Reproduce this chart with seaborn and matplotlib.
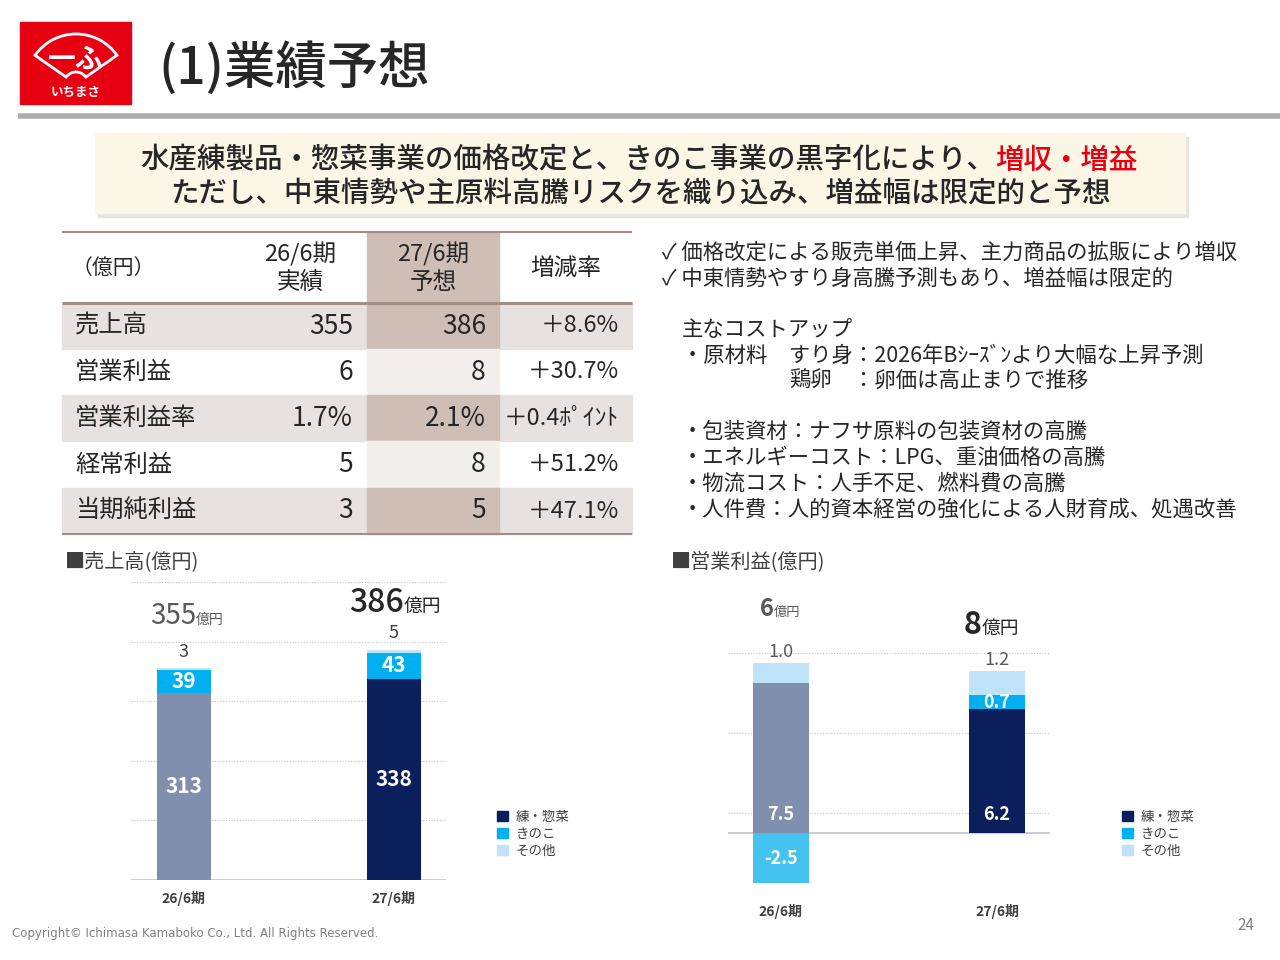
import numpy as np
import pandas as pd
import matplotlib
matplotlib.use('Agg')
import matplotlib.pyplot as plt
import seaborn as sns
from matplotlib import font_manager
from matplotlib.patches import Rectangle, Wedge, Patch

# データ（億円）
periods = ['26/6期', '27/6期']
segments = ['練・惣菜', 'きのこ', 'その他']

sales_main = [313, 338]
sales_kinoko = [39, 43]
sales_other = [3, 5]
sales_total = [355, 386]

op_main = [7.5, 6.2]
op_kinoko = [-2.5, 0.7]
op_other = [1.0, 1.2]
op_total = [6, 8]

table_rows = ['売上高', '営業利益', '営業利益率', '経常利益', '当期純利益']
table_26 = ['355', '6', '1.7%', '5', '3']
table_27 = ['386', '8', '2.1%', '8', '5']
table_rate = ['＋8.6%', '＋30.7%', '＋0.4ﾎﾟｲﾝﾄ', '＋51.2%', '＋47.1%']

# 色
NAVY = '#0B1F5C'
GRAYBLUE = '#7F8FAD'
CYAN = '#00B0F0'
CYAN_NEG = '#45C3F0'
LIGHT = '#BFE3F8'
RED = '#E60012'
DARK = '#262626'
MID = '#404040'

sns.set_theme(style='white')
JP = 'Noto Sans CJK JP'
plt.rcParams['font.family'] = [JP, 'DejaVu Sans']
names = {f.name for f in font_manager.fontManager.ttflist}
NUM_FONT = 'Liberation Sans Narrow' if 'Liberation Sans Narrow' in names else JP
NUMF = [NUM_FONT, JP, 'DejaVu Sans']

fig = plt.figure(figsize=(12.8, 9.6), dpi=100)
fig.patch.set_facecolor('white')

# 背景用の軸（ピクセル座標）
bg = fig.add_axes([0, 0, 1, 1], zorder=0)
bg.set_xlim(0, 1280)
bg.set_ylim(960, 0)
bg.axis('off')

# ロゴ
bg.add_patch(Rectangle((20, 22), 111, 82, color=RED))
bg.add_patch(Wedge((76, 84), 50, 215, 325, width=38, fill=False, ec='white', lw=2))
bg.text(76, 60, '一ふ', color='white', fontsize=20, fontweight='bold', ha='center', va='center')
bg.text(76, 92, 'いちまさ', color='white', fontsize=9, fontweight='bold', ha='center', va='center')

# タイトル
bg.text(158, 68, '(1)業績予想', fontsize=37, color=DARK, ha='left', va='center', fontweight='medium')
bg.plot([18, 1280], [116, 116], color='#ADADAD', lw=4, solid_capstyle='butt')

# バナー
bg.add_patch(Rectangle((98, 137), 1090, 80, color='#E4E4E4', zorder=1))
bg.add_patch(Rectangle((95, 133), 1090, 80, color='#FBF6E5', zorder=2))
bg.text(995, 160, '水産練製品・惣菜事業の価格改定と、きのこ事業の黒字化により、',
        fontsize=20.5, color=DARK, ha='right', va='center', zorder=3, fontweight='medium')
bg.text(995, 160, '増収・増益', fontsize=20.5, color=RED, ha='left', va='center', zorder=3,
        fontweight='medium')
bg.text(640, 193, 'ただし、中東情勢や主原料高騰リスクを織り込み、増益幅は限定的と予想',
        fontsize=20.5, color=DARK, ha='center', va='center', zorder=3, fontweight='medium')

# 表
col_edges = [62, 240, 367, 499, 632]
row_edges = [232, 303, 349, 395, 441, 488, 534]
ROW_SHADE = '#E7E2E0'
COL_DARK = '#CFBEB6'
COL_LIGHT = '#F3EFED'
LINE = '#A38E86'

bg.add_patch(Rectangle((col_edges[2], row_edges[0]), col_edges[3] - col_edges[2],
                       row_edges[1] - row_edges[0], color=COL_DARK))
for i in range(len(table_rows)):
    y0, y1 = row_edges[i + 1], row_edges[i + 2]
    if i % 2 == 0:
        bg.add_patch(Rectangle((col_edges[0], y0), col_edges[4] - col_edges[0], y1 - y0, color=ROW_SHADE))
        bg.add_patch(Rectangle((col_edges[2], y0), col_edges[3] - col_edges[2], y1 - y0, color=COL_DARK))
    else:
        bg.add_patch(Rectangle((col_edges[2], y0), col_edges[3] - col_edges[2], y1 - y0, color=COL_LIGHT))
    yc = (y0 + y1) / 2
    bg.text(75, yc, table_rows[i], fontsize=17.5, color=DARK, ha='left', va='center')
    bg.text(353, yc, table_26[i], fontsize=19, color=DARK, ha='right', va='center', family=NUMF)
    bg.text(486, yc, table_27[i], fontsize=19, color=DARK, ha='right', va='center', family=NUMF)
    bg.text(619, yc, table_rate[i], fontsize=17, color=DARK, ha='right', va='center', family=NUMF)

for y, lw in [(232, 1.5), (303, 2.2), (534, 1.5)]:
    bg.plot([col_edges[0], col_edges[4]], [y, y], color=LINE, lw=lw, solid_capstyle='butt')

bg.text(72, 268, '（億円）', fontsize=15, color=DARK, ha='left', va='center')
bg.text(300, 268, '26/6期\n実績', fontsize=17, color=DARK, ha='center', va='center',
        linespacing=1.25, family=NUMF)
bg.text(433, 268, '27/6期\n予想', fontsize=17, color=DARK, ha='center', va='center',
        linespacing=1.25, family=NUMF)
bg.text(566, 268, '増減率', fontsize=17, color=DARK, ha='center', va='center')

# 右側のコメント
notes = [
    (662, 253, '✓ 価格改定による販売単価上昇、主力商品の拡販により増収'),
    (662, 279, '✓ 中東情勢やすり身高騰予測もあり、増益幅は限定的'),
    (682, 330, '主なコストアップ'),
    (682, 356, '・原材料　すり身：2026年Bｼｰｽﾞﾝより大幅な上昇予測'),
    (789, 381, '鶏卵'),
    (853, 381, '：卵価は高止まりで推移'),
    (682, 432, '・包装資材：ナフサ原料の包装資材の高騰'),
    (682, 458, '・エネルギーコスト：LPG、重油価格の高騰'),
    (682, 484, '・物流コスト：人手不足、燃料費の高騰'),
    (682, 510, '・人件費：人的資本経営の強化による人財育成、処遇改善'),
]
for x, y, s in notes:
    bg.text(x, y, s, fontsize=15.4, color=DARK, ha='left', va='center')

# グラフタイトル
bg.text(65, 563, '■売上高(億円)', fontsize=14.5, color=MID, ha='left', va='center')
bg.text(671, 563, '■営業利益(億円)', fontsize=14.5, color=MID, ha='left', va='center')

# フッター
bg.text(12, 933, 'Copyright© Ichimasa Kamaboko Co., Ltd. All Rights Reserved.',
        fontsize=8.5, color='#808080', ha='left', va='center', family=['DejaVu Sans'])
bg.text(1246, 926, '24', fontsize=11, color='#808080', ha='center', va='center')


def px_axes(x0, x1, ytop, ybot):
    return fig.add_axes([x0 / 1280, 1 - ybot / 960, (x1 - x0) / 1280, (ybot - ytop) / 960], zorder=2)


def draw_segment(ax, values, bottoms, colors, width):
    n = len(ax.patches)
    df = pd.DataFrame({'period': periods, 'value': values})
    sns.barplot(data=df, x='period', y='value', color=colors[0], bottom=bottoms,
                width=width, saturation=1, errorbar=None, linewidth=0, ax=ax)
    for p, c in zip(ax.patches[n:], colors):
        p.set_facecolor(c)
        p.set_edgecolor(c)


def stack(ax, main, kin, oth, main_colors, kin_colors, width):
    main = np.array(main, dtype=float)
    kin = np.array(kin, dtype=float)
    oth = np.array(oth, dtype=float)
    kin_bottom = np.where(kin > 0, main, 0)
    oth_bottom = main + np.clip(kin, 0, None)
    draw_segment(ax, main, np.zeros(2), main_colors, width)
    draw_segment(ax, kin, kin_bottom, kin_colors, width)
    draw_segment(ax, oth, oth_bottom, [LIGHT, LIGHT], width)
    return kin_bottom, oth_bottom + oth


def style_axes(ax, gridvals, xlim, ylim):
    ax.set_facecolor('none')
    ax.set_xlim(*xlim)
    ax.set_ylim(*ylim)
    ax.set_yticks(gridvals)
    ax.set_xlabel('')
    ax.set_ylabel('')
    for sp in ax.spines.values():
        sp.set_visible(False)
    ax.grid(axis='y', linestyle=(0, (1, 1.5)), color='#BFBFBF', lw=0.8)
    ax.grid(axis='x', visible=False)
    ax.set_axisbelow(True)
    ax.axhline(0, color='#C8C8C8', lw=1.3, zorder=0.8)
    ax.tick_params(axis='y', length=0, labelleft=False)
    ax.tick_params(axis='x', length=0, pad=8, labelsize=10, labelcolor=MID)
    for lbl in ax.get_xticklabels():
        lbl.set_fontfamily(NUMF)
        lbl.set_fontweight('bold')


handles = [Patch(color=c) for c in [NAVY, CYAN, LIGHT]]


def add_legend(ax, x, y):
    ax.legend(handles, segments, loc='upper left', bbox_to_anchor=(x, y), bbox_transform=bg.transData,
              frameon=False, fontsize=9.7, handlelength=0.8, handleheight=0.8, handletextpad=0.6,
              labelspacing=0.22, borderpad=0, borderaxespad=0, labelcolor=MID)


# 売上高グラフ
ax1 = px_axes(131, 446, 582, 880)
kb1, top1 = stack(ax1, sales_main, sales_kinoko, sales_other, [GRAYBLUE, NAVY], [CYAN, CYAN], 0.257)
style_axes(ax1, [0, 100, 200, 300, 400, 500], (-0.252, 1.248), (0, 500))
for i in range(2):
    ax1.text(i, sales_main[i] / 2, str(sales_main[i]), color='white', fontsize=15, fontweight='bold',
             ha='center', va='center', family=NUMF)
    ax1.text(i, kb1[i] + sales_kinoko[i] / 2, str(sales_kinoko[i]), color='white', fontsize=15,
             fontweight='bold', ha='center', va='center', family=NUMF)
    ax1.text(i, top1[i] + 28, str(sales_other[i]), color=MID, fontsize=13, ha='center', va='center',
             family=NUMF)
ax1.text(0.057, 430, str(sales_total[0]), fontsize=20, color='#595959', ha='right', va='baseline',
         family=NUMF)
ax1.text(0.057, 430, '億円', fontsize=10, color='#595959', ha='left', va='baseline')
ax1.text(1.048, 450, str(sales_total[1]), fontsize=23, color=DARK, ha='right', va='baseline',
         family=NUMF, fontweight='medium')
ax1.text(1.048, 450, '億円', fontsize=13.5, color=DARK, ha='left', va='baseline')
add_legend(ax1, 497, 810)

# 営業利益グラフ
ax2 = px_axes(728, 1050, 653, 893)
kb2, top2 = stack(ax2, op_main, op_kinoko, op_other, [GRAYBLUE, NAVY], [CYAN_NEG, CYAN], 0.26)
style_axes(ax2, [-3, 1, 5, 9], (-0.245, 1.245), (-3, 9))
for i in range(2):
    ax2.text(i, 0.9, f'{op_main[i]:.1f}', color='white', fontsize=13, fontweight='bold',
             ha='center', va='center', family=NUMF)
    ax2.text(i, kb2[i] + op_kinoko[i] / 2, f'{op_kinoko[i]:.1f}', color='white', fontsize=13,
             fontweight='bold', ha='center', va='center', family=NUMF)
    ax2.text(i, top2[i] + 0.55, f'{op_other[i]:.1f}', color='#595959', fontsize=13,
             ha='center', va='center', family=NUMF)
ax2.text(-0.032, 10.85, str(op_total[0]), fontsize=17, color='#595959', ha='right', va='baseline',
         family=NUMF, fontweight='bold')
ax2.text(-0.032, 10.85, '億円', fontsize=9.5, color='#595959', ha='left', va='baseline')
ax2.text(0.93, 9.95, str(op_total[1]), fontsize=22, color=DARK, ha='right', va='baseline',
         family=NUMF, fontweight='bold')
ax2.text(0.93, 9.95, '億円', fontsize=13.5, color=DARK, ha='left', va='baseline')
add_legend(ax2, 1122, 810)

fig.savefig('out.png', dpi=100)
